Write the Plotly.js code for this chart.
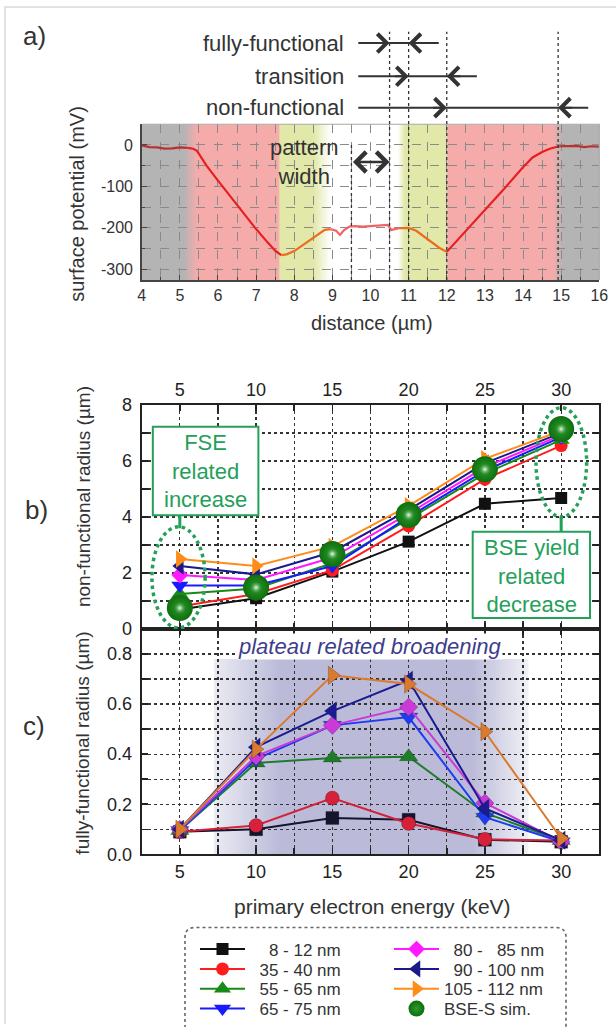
<!DOCTYPE html>
<html><head><meta charset="utf-8">
<script src="https://cdn.plot.ly/plotly-3.0.1.min.js"></script>
<style>html,body{margin:0;padding:0;background:#fff}#chart{width:616px;height:1027px}</style>
</head><body><div id="chart"></div>
<script>
// ---------------- Panel a: surface potential profile ----------------
const distance = [4.0,4.2,4.4,4.6,4.8,5.0,5.2,5.35,5.45,5.7,6.0,6.5,7.0,7.3,7.5,7.66,7.8,8.0,8.2,8.4,8.6,8.8,8.95,9.1,9.2,9.3,9.45,9.6,9.8,10.0,10.2,10.45,10.55,10.62,10.75,11.0,11.2,11.4,11.6,11.8,12.0,12.2,12.5,13.0,13.5,14.0,14.25,14.5,14.7,14.95,15.2,15.4,15.6,15.8,16.0];
const potential = [-1,-5,-6,-9,-8,-6,-7,-9,-14,-50,-86,-145,-203,-235,-255,-266,-264,-256,-243,-230,-217,-205,-203,-207,-217,-206,-197,-196,-197,-196,-194,-193,-205,-203,-201,-200,-207,-220,-233,-248,-258,-238,-207,-158,-106,-54,-30,-17,-9,-3,-3,-2,-5,-3,-4];
const distanceTicks = [4,5,6,7,8,9,10,11,12,13,14,15,16];
const potentialTickVals = [0,-100,-200,-300];
const potentialTickText = ['0','-100','-200','-300'];
// region limits (µm) used to colour the profile line
const regionEdges = [4.0,5.2,7.66,8.95,10.75,12.0,14.95,16.0];
// region marker lines (µm)
const patternEdges = [9.5,10.5];
const zoneEdges = [10.5,11.0,12.0,14.92];

// ---------------- Panels b & c ----------------
const energy = [5,10,15,20,25,30];
const energyTicks = [5,10,15,20,25,30];
const nonFunc_8_12    = [0.70,1.10,2.05,3.12,4.47,4.68];
const nonFunc_35_40   = [0.80,1.25,2.10,3.68,5.35,6.55];
const nonFunc_55_65   = [1.25,1.45,2.35,3.92,5.55,6.75];
const nonFunc_65_75   = [1.55,1.55,2.25,4.00,5.65,6.85];
const nonFunc_80_85   = [1.93,1.75,2.55,4.12,5.78,6.92];
const nonFunc_90_100  = [2.25,1.95,2.75,4.25,5.92,7.00];
const nonFunc_105_112 = [2.50,2.25,2.95,4.40,6.08,7.08];
const nonFunc_BSE     = [0.75,1.48,2.68,4.07,5.70,7.14];

const fullFunc_8_12    = [0.090,0.100,0.145,0.138,0.058,0.050];
const fullFunc_35_40   = [0.090,0.115,0.225,0.123,0.060,0.055];
const fullFunc_55_65   = [0.095,0.365,0.385,0.390,0.165,0.055];
const fullFunc_65_75   = [0.095,0.380,0.515,0.548,0.148,0.050];
const fullFunc_80_85   = [0.100,0.392,0.515,0.588,0.205,0.050];
const fullFunc_90_100  = [0.100,0.428,0.572,0.695,0.183,0.056];
const fullFunc_105_112 = [0.100,0.420,0.715,0.680,0.490,0.063];

const seriesLabels = ['\u00a0\u00a0\u00a0\u00a08 - 12 nm','\u00a0\u00a035 - 40 nm','\u00a0\u00a055 - 65 nm','\u00a0\u00a065 - 75 nm',
  '\u00a0\u00a080 -\u00a0\u00a0\u00a085 nm','\u00a0\u00a090 - 100 nm','105 - 112 nm'];
const bseLabel = 'BSE-S sim.';
const nfTickVals = [0,2,4,6,8];
const ffTickVals = [0,0.2,0.4,0.6,0.8];
const ffTickText = ['0.0','0.2','0.4','0.6','0.8'];

// ---------------- styling ----------------
const FONT = 'Liberation Sans, Arial, Helvetica, sans-serif';
const W = 616, H = 1027;
const px = v => v / W;
const py = v => 1 - v / H;
const xDom = [px(141.7), px(599.3)];
const TXT = '#333333';
const GREEN = '#25a05a';

const nfSeries = [nonFunc_8_12,nonFunc_35_40,nonFunc_55_65,nonFunc_65_75,nonFunc_80_85,nonFunc_90_100,nonFunc_105_112];
const ffSeries = [fullFunc_8_12,fullFunc_35_40,fullFunc_55_65,fullFunc_65_75,fullFunc_80_85,fullFunc_90_100,fullFunc_105_112];
const symbols = ['square','circle','triangle-up','triangle-down','diamond','triangle-left','triangle-right'];
const sizesB = [12,13,15,15,13,15,15];
const sizesC = [13,14,16,16,14,16,16];
const colorsB = ['#111111','#ff1c1c','#178a17','#1a1aff','#ff1aff','#1a1a8a','#ff8c1a'];
const colorsC = ['#14142e','#d6213a','#1f7d2a','#1f3cf0','#c93ad9','#1c1c92','#d97a2e'];
const legendIds = ['legend','legend2','legend3','legend4','legend','legend2','legend3'];
const lineColors = ['#b83030','#e62020','#ec6c22','#f26464','#ec6c22','#e62020','#b83030'];

const traces = [];
// panel a: profile line, coloured by region
for (let r = 0; r < regionEdges.length - 1; r++) {
  const xs = [], ys = [];
  distance.forEach((d, i) => { if (d >= regionEdges[r] && d <= regionEdges[r+1]) { xs.push(d); ys.push(potential[i]); } });
  traces.push({x: xs, y: ys, xaxis: 'x', yaxis: 'y', mode: 'lines', line: {color: lineColors[r], width: 2.2}, showlegend: false, hoverinfo: 'skip'});
}
// panel b
nfSeries.forEach((s, i) => {
  traces.push({x: energy, y: s, xaxis: 'x2', yaxis: 'y2', mode: 'lines+markers', name: seriesLabels[i],
    legend: legendIds[i], showlegend: true,
    line: {color: colorsB[i], width: 2},
    marker: {symbol: symbols[i], size: sizesB[i], color: colorsB[i], line: {width: 0}}});
});
traces.push({x: energy, y: nonFunc_BSE, xaxis: 'x2', yaxis: 'y2', mode: 'markers', name: bseLabel,
  legend: 'legend4', showlegend: true,
  marker: {symbol: 'circle', size: 26, color: '#0d6e0d', gradient: {type: 'radial', color: '#2f9a2f'}, line: {width: 0}}});
traces.push({x: energy, y: nonFunc_BSE, xaxis: 'x2', yaxis: 'y2', mode: 'markers', showlegend: false, hoverinfo: 'skip',
  marker: {symbol: 'circle', size: 12, color: 'rgba(60,160,60,0)', gradient: {type: 'radial', color: 'rgba(255,255,255,0.95)'}, line: {width: 0}}});
// panel c
ffSeries.forEach((s, i) => {
  traces.push({x: energy, y: s, xaxis: 'x3', yaxis: 'y3', mode: 'lines+markers', name: seriesLabels[i], showlegend: false,
    line: {color: colorsC[i], width: 2},
    marker: {symbol: symbols[i], size: sizesC[i], color: colorsC[i], line: {width: 0.6, color: 'rgba(0,0,0,0.35)'}}});
});

// gradient images (decorative backgrounds)
function gradientImage(stops) {
  const c = document.createElement('canvas'); c.width = 1200; c.height = 4;
  const ctx = c.getContext('2d');
  const g = ctx.createLinearGradient(0, 0, 1200, 0);
  stops.forEach(s => g.addColorStop(s[0], s[1]));
  ctx.fillStyle = g; ctx.fillRect(0, 0, 1200, 4);
  return c.toDataURL();
}
const GRAY = '#b4b4b4', PINK = '#f6abab', YEL = '#e1e8a8', WHITE = '#ffffff';
const bandStopsUm = [[4,GRAY],[5.1,GRAY],[5.45,PINK],[7.58,PINK],[7.63,YEL],[8.5,YEL],[8.95,WHITE],[10.72,WHITE],[10.9,YEL],[11.96,YEL],[12.04,PINK],[14.78,PINK],[15.05,GRAY],[16,GRAY]];
const bandImg = gradientImage(bandStopsUm.map(s => [(s[0]-4)/12, s[1]]));
const PUR = '#bbbbd9';
const plateauImg = gradientImage([[0,'#ebebf3'],[0.21,PUR],[0.82,PUR],[1,'#f1f1f7']]);

const axA = {showline: true, linecolor: '#444', linewidth: 1.5, mirror: false, zeroline: false,
  ticks: 'inside', ticklen: 5, tickcolor: '#444', tickfont: {size: 16, color: TXT, family: FONT},
  showgrid: true, gridcolor: '#8a8a8a', griddash: 'dash', gridwidth: 1};
const axBC = {showline: true, linecolor: '#222', linewidth: 2, mirror: 'allticks', zeroline: false,
  ticks: 'inside', ticklen: 6, tickwidth: 1.5, tickcolor: '#222', tickfont: {size: 18, color: '#222', family: FONT},
  showgrid: true, gridcolor: '#333', griddash: 'dot', gridwidth: 1.3};
const minorBC = (dt) => ({dtick: dt, tick0: 0, ticks: 'inside', ticklen: 6, tickwidth: 1.5, tickcolor: '#222', showgrid: true, gridcolor: '#333', griddash: 'dot', gridwidth: 1.3});

const shapes = [];
const annotations = [];
const note = (o) => annotations.push(Object.assign({xanchor: 'center', yanchor: 'middle', showarrow: false}, o));
// figure frame (left & top light border)
shapes.push({type: 'path', xref: 'paper', yref: 'paper', path: `M${px(5)},${py(1030)} L${px(5)},${py(7)} L${px(620)},${py(7)}`, line: {color: '#d9d9d9', width: 1.5}});
// panel a light top/right frame
shapes.push({type: 'path', xref: 'paper', yref: 'paper', path: `M${xDom[0]},${py(125)} L${xDom[1]},${py(125)} L${xDom[1]},${py(281.7)}`, line: {color: '#a8a8a8', width: 1.2}});
// vertical dotted marker lines in panel a
zoneEdges.forEach(v => shapes.push({type: 'line', xref: 'x', yref: 'paper', x0: v, x1: v, y0: py(281.7), y1: py(32), line: {color: '#333', width: 1.3, dash: 'dot'}}));
shapes.push({type: 'line', xref: 'x', yref: 'paper', x0: patternEdges[0], x1: patternEdges[0], y0: py(281.7), y1: py(143), line: {color: '#333', width: 1.3, dash: 'dot'}});

// header rows of panel a
const rows = [
  {label: 'fully-functional', y: 43.3, start: 9.68, end: 11.79, tipR: zoneEdges[0], tipL: zoneEdges[1]},
  {label: 'transition', y: 76.7, start: 9.68, end: 12.79, tipR: zoneEdges[1], tipL: zoneEdges[2]},
  {label: 'non-functional', y: 108.3, start: 9.68, end: 15.71, tipR: zoneEdges[2], tipL: zoneEdges[3]}
];
const arrowBase = {showarrow: true, text: '', axref: 'x', ayref: 'pixel', ay: 0, arrowhead: 4, arrowsize: 1.8, arrowwidth: 2, arrowcolor: '#333', standoff: 0};
rows.forEach(r => {
  note({xref: 'x', yref: 'paper', x: 9.37, y: py(r.y), xanchor: 'right', text: r.label, font: {size: 22, color: TXT, family: FONT}});
  shapes.push({type: 'line', xref: 'x', yref: 'paper', x0: r.start, x1: r.end, y0: py(r.y), y1: py(r.y), line: {color: '#333', width: 2}});
  annotations.push(Object.assign({}, arrowBase, {xref: 'x', yref: 'paper', x: r.tipR, y: py(r.y), ax: r.tipR - 0.4}));
  annotations.push(Object.assign({}, arrowBase, {xref: 'x', yref: 'paper', x: r.tipL, y: py(r.y), ax: r.tipL + 0.4}));
});
// pattern width
note({xref: 'x', yref: 'y', x: 8.28, y: -40, text: 'pattern<br>width', font: {size: 22, color: TXT, family: FONT}, align: 'center'});
annotations.push(Object.assign({}, arrowBase, {xref: 'x', yref: 'y', x: patternEdges[1], y: -41, ax: patternEdges[0], arrowside: 'end+start', arrowsize: 1.5, arrowwidth: 2.6, startstandoff: 0}));

// axis titles & panel labels
const titleFont = (s) => ({size: s, color: TXT, family: FONT});
note({xref: 'paper', yref: 'paper', x: px(77), y: py(205), text: 'surface potential (mV)', textangle: -90, font: titleFont(20)});
note({xref: 'paper', yref: 'paper', x: px(372), y: py(325), text: 'distance (\u00b5m)', font: titleFont(20)});
note({xref: 'paper', yref: 'paper', x: px(83), y: py(500), text: 'non-functional radius (\u00b5m)', textangle: -90, font: titleFont(19)});
note({xref: 'paper', yref: 'paper', x: px(83), y: py(748), text: 'fully-functional radius (\u00b5m)', textangle: -90, font: titleFont(19)});
note({xref: 'paper', yref: 'paper', x: px(372), y: py(912), text: 'primary electron energy (keV)', font: titleFont(21)});
note({xref: 'paper', yref: 'paper', x: px(34), y: py(36), text: 'a)', font: titleFont(26)});
note({xref: 'paper', yref: 'paper', x: px(36), y: py(513), text: 'b)', font: titleFont(26)});
note({xref: 'paper', yref: 'paper', x: px(34), y: py(730), text: 'c)', font: titleFont(26)});

// panel b call-outs
shapes.push({type: 'circle', xref: 'x2', yref: 'y2', x0: 3.17, x1: 6.66, y0: 0.04, y1: 3.65, line: {color: GREEN, width: 3.5, dash: 'dot'}});
shapes.push({type: 'circle', xref: 'x2', yref: 'y2', x0: 28.35, x1: 31.67, y0: 4.0, y1: 7.9, line: {color: GREEN, width: 3.5, dash: 'dot'}});
shapes.push({type: 'line', xref: 'x2', yref: 'y2', x0: 5, x1: 5, y0: 4.06, y1: 3.6, line: {color: GREEN, width: 3}});
shapes.push({type: 'line', xref: 'x2', yref: 'y2', x0: 30, x1: 30, y0: 4.0, y1: 3.47, line: {color: GREEN, width: 3}});
shapes.push({type: 'rect', xref: 'x2', yref: 'y2', x0: 3.23, x1: 10.15, y0: 4.06, y1: 7.22, fillcolor: '#fff', line: {color: GREEN, width: 2}});
shapes.push({type: 'rect', xref: 'x2', yref: 'y2', x0: 24.2, x1: 31.89, y0: 0.39, y1: 3.47, fillcolor: '#fff', line: {color: GREEN, width: 2}});
note({xref: 'x2', yref: 'y2', x: 6.69, y: 5.64, text: 'FSE<br>related<br>increase', font: {size: 22, color: GREEN, family: FONT}, align: 'center'});
note({xref: 'x2', yref: 'y2', x: 28.04, y: 1.9, text: 'BSE yield<br>related<br>decrease', font: {size: 22, color: GREEN, family: FONT}, align: 'center'});

// panel c caption
note({xref: 'paper', yref: 'paper', x: px(370), y: py(650), text: '<i>plateau related broadening</i>', font: {size: 22, color: '#3d3d8c', family: FONT}, bgcolor: '#ffffff', borderpad: 0});

// legend frame (dotted, rounded)
(function(){
  const l = 185, r = 566, t = 933, b = 1034, rad = 10;
  const p = `M${px(l)},${py(b)} L${px(l)},${py(t+rad)} Q${px(l)},${py(t)} ${px(l+rad)},${py(t)} L${px(r-rad)},${py(t)} Q${px(r)},${py(t)} ${px(r)},${py(t+rad)} L${px(r)},${py(b)}`;
  shapes.push({type: 'path', xref: 'paper', yref: 'paper', path: p, line: {color: '#666', width: 1.6, dash: 'dot'}});
})();

const legendRowsY = [954.5, 974.5, 994.5, 1014.5];
const legendBase = {orientation: 'h', x: px(195), xanchor: 'left', yanchor: 'top', font: {size: 17, color: TXT, family: FONT},
  itemwidth: 45, entrywidth: 134, bgcolor: 'rgba(0,0,0,0)', borderwidth: 0, itemclick: false, itemdoubleclick: false};

const layout = {
  width: W, height: H, margin: {l: 0, r: 0, t: 0, b: 0}, paper_bgcolor: '#fff', plot_bgcolor: 'rgba(0,0,0,0)',
  font: {family: FONT, color: TXT},
  xaxis: Object.assign({}, axA, {domain: xDom, anchor: 'y', range: [4,16], tickvals: distanceTicks,
    minor: {dtick: 0.5, tick0: 4, ticks: 'inside', ticklen: 3, tickcolor: '#444', showgrid: true, gridcolor: '#8a8a8a', griddash: 'dash', gridwidth: 1}}),
  yaxis: Object.assign({}, axA, {domain: [py(281.7), py(125)], anchor: 'x', range: [-326, 50], tickvals: potentialTickVals, ticktext: potentialTickText, ticklabelstandoff: 4,
    minor: {dtick: 50, tick0: 0, ticks: 'inside', ticklen: 3, tickcolor: '#444', showgrid: true, gridcolor: '#8a8a8a', griddash: 'dash', gridwidth: 1}}),
  xaxis2: Object.assign({}, axBC, {domain: xDom, anchor: 'y2', side: 'top', range: [2.5, 32.5], tickvals: energyTicks, minor: minorBC(2.5)}),
  yaxis2: Object.assign({}, axBC, {domain: [py(632.7), py(407.3)], anchor: 'x2', range: [0, 8], tickvals: nfTickVals, minor: minorBC(1), ticklabelstandoff: 4}),
  xaxis3: Object.assign({}, axBC, {domain: xDom, anchor: 'y3', range: [2.5, 32.5], tickvals: energyTicks, minor: minorBC(2.5)}),
  yaxis3: Object.assign({}, axBC, {domain: [py(859.3), py(632.7)], anchor: 'x3', range: [0, 0.9], tickvals: ffTickVals, ticktext: ffTickText, minor: minorBC(0.1), ticklabelstandoff: 4}),
  images: [
    {source: bandImg, xref: 'x', yref: 'y', x: 4, y: 50, sizex: 12, sizey: 376, sizing: 'stretch', xanchor: 'left', yanchor: 'top', layer: 'below'},
    {source: plateauImg, xref: 'x3', yref: 'y3', x: 7.25, y: 0.78, sizex: 20.6, sizey: 0.78, sizing: 'stretch', xanchor: 'left', yanchor: 'top', layer: 'below'}
  ],
  shapes: shapes,
  annotations: annotations,
  legend: Object.assign({}, legendBase, {y: py(legendRowsY[0] - 17.5)}),
  legend2: Object.assign({}, legendBase, {y: py(legendRowsY[1] - 17.5)}),
  legend3: Object.assign({}, legendBase, {y: py(legendRowsY[2] - 17.5)}),
  legend4: Object.assign({}, legendBase, {y: py(legendRowsY[3] - 17.5)}),
  showlegend: true
};

Plotly.newPlot('chart', traces, layout, {staticPlot: true, displayModeBar: false});
</script>
</body></html>
